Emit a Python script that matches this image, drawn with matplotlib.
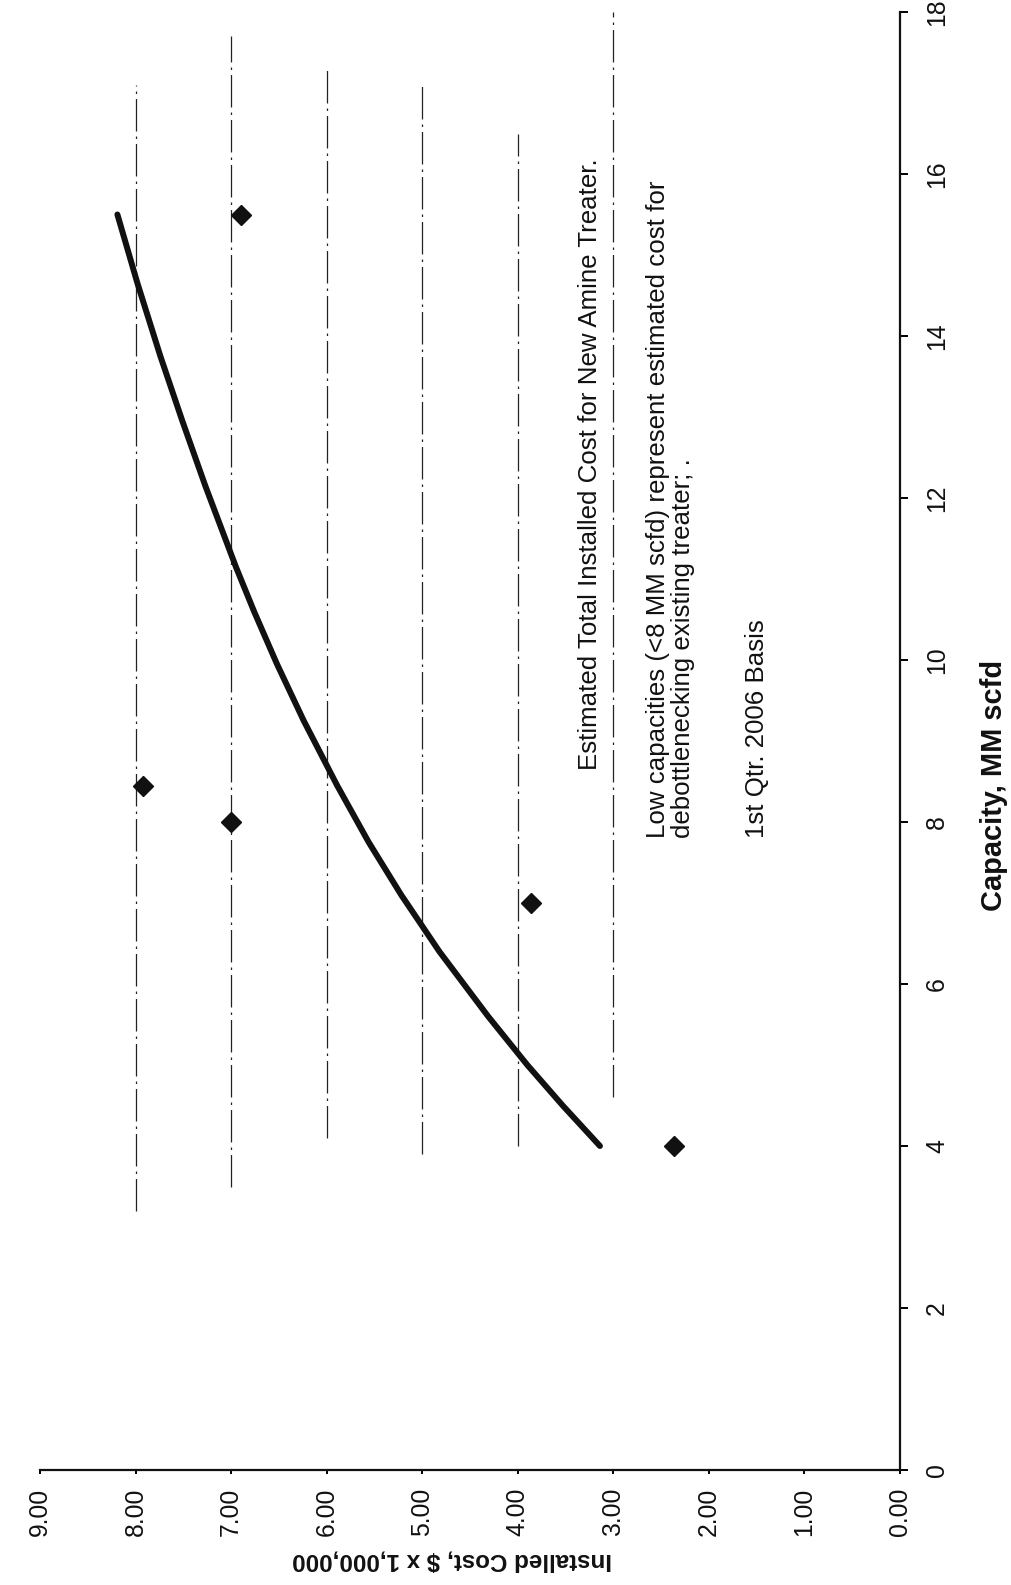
import matplotlib
matplotlib.use('Agg')
import matplotlib.pyplot as plt
from matplotlib import font_manager

# ---------------- data ----------------
capacity_curve = [4.0, 4.5, 5.0, 5.6, 6.4, 7.1, 7.75, 8.45, 9.25, 9.95, 10.6, 11.15, 12.15, 12.95, 13.75, 14.65, 15.5]
cost_curve = [3.14, 3.53, 3.90, 4.31, 4.82, 5.22, 5.56, 5.89, 6.24, 6.52, 6.76, 6.95, 7.27, 7.51, 7.74, 7.98, 8.19]

capacity_points = [4.0, 7.0, 8.0, 8.45, 15.5]
cost_points = [2.37, 3.86, 7.0, 7.92, 6.9]

cost_ticks = [0, 1, 2, 3, 4, 5, 6, 7, 8, 9]
cost_tick_labels = ["0.00", "1.00", "2.00", "3.00", "4.00", "5.00", "6.00", "7.00", "8.00", "9.00"]
capacity_ticks = [0, 2, 4, 6, 8, 10, 12, 14, 16, 18]
capacity_tick_labels = ["0", "2", "4", "6", "8", "10", "12", "14", "16", "18"]

grid_costs = [3, 4, 5, 6, 7, 8]
grid_start = [4.6, 4.0, 3.9, 4.1, 3.5, 3.2]
grid_end = [18.0, 16.5, 17.1, 17.3, 17.7, 17.1]

x_label = "Capacity, MM scfd"
y_label = "Installed Cost, $ x 1,000,000"
notes = [
    "Estimated Total Installed Cost for New Amine Treater.",
    "Low capacities (<8 MM scfd) represent estimated cost for",
    "debottlenecking existing treater; .",
    "1st Qtr. 2006 Basis",
]

# ---------------- fonts ----------------
names = {f.name for f in font_manager.fontManager.ttflist}
main_font = 'Liberation Sans Narrow' if 'Liberation Sans Narrow' in names else 'Liberation Sans'
plt.rcParams['font.family'] = [main_font, 'DejaVu Sans']

W, H = 1012, 1585
fig = plt.figure(figsize=(W / 100, H / 100), dpi=100)
fig.patch.set_facecolor('white')


def fx(px):
    return px / W


def fy(py):
    return 1 - py / H


left_px, right_px, top_px, bottom_px = 40, 900, 12, 1470
ax = fig.add_axes([fx(left_px), fy(bottom_px), (right_px - left_px) / W, (bottom_px - top_px) / H])
ax.set_facecolor('white')
ax.set_xlim(9, 0)
ax.set_ylim(0, 18)

for s in ['top', 'left']:
    ax.spines[s].set_visible(False)
for s in ['bottom', 'right']:
    ax.spines[s].set_linewidth(1.6)
    ax.spines[s].set_color('#111111')

# grid lines (constant cost)
ax.vlines(grid_costs, grid_start, grid_end, colors='#222222',
          linewidth=0.9, linestyles=[(0, (26, 4, 2, 4))])

# curve and points
ax.plot(cost_curve, capacity_curve, color='#111111', linewidth=4.3,
        solid_capstyle='round', solid_joinstyle='round')
ax.plot(cost_points, capacity_points, linestyle='none', marker='D', color='#111111', markersize=10.5)

renderer = fig.canvas.get_renderer()


def fit(txt, target, vertical=True):
    bb = txt.get_window_extent(renderer)
    length = bb.height if vertical else bb.width
    txt.set_fontsize(txt.get_fontsize() * target / length)
    return txt.get_fontsize()


# tick font sizes fitted to the measured label lengths
probe = fig.text(0.5, 0.5, "9.00", fontsize=12, rotation=90)
tick_fs = fit(probe, 48)
probe.remove()

ax.set_xticks(cost_ticks)
ax.set_xticklabels(cost_tick_labels, rotation=90, fontsize=tick_fs, color='#111111')
ax.tick_params(axis='x', direction='out', length=3, width=1.4, pad=10)

ax.yaxis.tick_right()
ax.set_yticks(capacity_ticks)
ax.set_yticklabels(capacity_tick_labels, rotation=90, va='center', fontsize=tick_fs, color='#111111')
ax.tick_params(axis='y', direction='out', length=6, width=1.4, pad=12)

# axis titles
t = fig.text(fx(452), fy(1560), y_label, rotation=180, ha='center', va='center',
             fontweight='bold', fontsize=12, color='#111111')
fit(t, 317, vertical=False)
t = fig.text(fx(994), fy(785), x_label, rotation=90, ha='center', va='center',
             fontweight='bold', fontsize=12, color='#111111')
fit(t, 250, vertical=True)

# notes
note_pos = [(590, 770), (658, 838), (683, 838), (757, 838)]
t2 = fig.text(fx(note_pos[1][0]), fy(note_pos[1][1]), notes[1], rotation=90, rotation_mode='anchor',
              ha='left', va='center', fontsize=12, color='#111111')
note_fs = fit(t2, 658)
for i in (0, 2, 3):
    fig.text(fx(note_pos[i][0]), fy(note_pos[i][1]), notes[i], rotation=90, rotation_mode='anchor',
             ha='left', va='center', fontsize=note_fs, color='#111111')

fig.savefig('out.png', dpi=100, facecolor='white')
